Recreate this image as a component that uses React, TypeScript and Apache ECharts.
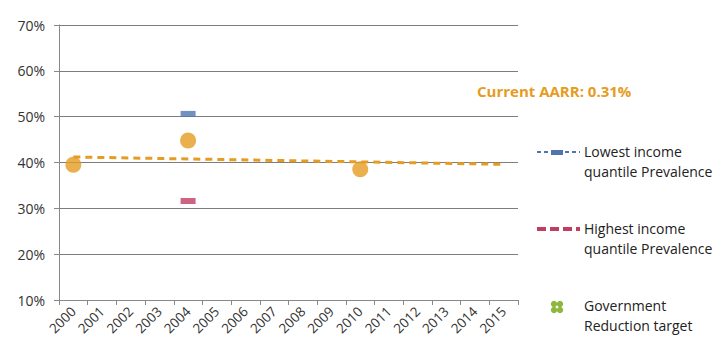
import React, { useEffect, useRef } from "react";
import * as echarts from "echarts";

const years = ["2000","2001","2002","2003","2004","2005","2006","2007","2008","2009","2010","2011","2012","2013","2014","2015"];
const yTicks = [10, 20, 30, 40, 50, 60, 70];
const nationalPoints: [string, number][] = [["2000", 39.5], ["2004", 44.8], ["2010", 38.5]];
const trendPoints: [string, number][] = [["2000", 41.2], ["2015", 39.6]];
const lowestIncome: [string, number][] = [["2004", 50.6]];
const highestIncome: [string, number][] = [["2004", 31.6]];
const aarrLabel = "Current AARR: 0.31%";

const ORANGE = "#E59C22";
const BLUE = "#4F74B0";
const RED = "#C23D62";
const GREEN = "#8DB83E";
const FONT = "Open Sans";

export default function App() {
  const ref = useRef<HTMLDivElement>(null);
  useEffect(() => {
    document.body.style.margin = "0";
    const chart = echarts.init(ref.current!, undefined, { renderer: "svg" });
    const cx = 557, cy = 307;
    chart.setOption({
      animation: false,
      grid: { left: 59, right: 198, top: 25, bottom: 47 },
      xAxis: {
        type: "category",
        data: years,
        boundaryGap: true,
        axisLine: { lineStyle: { color: "#888", width: 1 } },
        axisTick: { show: true, alignWithLabel: false, length: 5, lineStyle: { color: "#888" } },
        axisLabel: { rotate: 45, color: "#333", fontFamily: FONT, fontSize: 13.5, margin: 9 },
        splitLine: { show: false },
      },
      yAxis: {
        type: "value",
        min: yTicks[0],
        max: yTicks[yTicks.length - 1],
        interval: 10,
        axisLine: { show: true, lineStyle: { color: "#888" } },
        axisTick: { show: true, length: 5, lineStyle: { color: "#888" } },
        axisLabel: { formatter: "{value}%", color: "#333", fontFamily: FONT, fontSize: 14, margin: 14 },
        splitLine: { lineStyle: { color: "#7d7d7d", width: 1 } },
      },
      series: [
        {
          type: "line",
          data: trendPoints,
          symbol: "none",
          lineStyle: { color: ORANGE, width: 3, type: [7, 5] },
          z: 3,
        },
        {
          type: "scatter",
          data: nationalPoints,
          symbol: "circle",
          symbolSize: 16,
          itemStyle: { color: ORANGE },
          z: 4,
        },
        {
          type: "scatter",
          data: lowestIncome,
          symbol: "rect",
          symbolSize: [15, 6],
          itemStyle: { color: BLUE },
          z: 4,
        },
        {
          type: "scatter",
          data: highestIncome,
          symbol: "rect",
          symbolSize: [15, 6],
          itemStyle: { color: RED },
          z: 4,
        },
      ],
      graphic: [
        { type: "text", left: 477, top: 83, style: { text: aarrLabel, fill: ORANGE, font: `bold 15px ${FONT}` } },
        // legend: lowest
        { type: "line", shape: { x1: 537, y1: 152, x2: 580, y2: 152 }, style: { stroke: BLUE, lineWidth: 2, lineDash: [4, 3] } },
        { type: "rect", shape: { x: 551, y: 150, width: 12, height: 5 }, style: { fill: BLUE } },
        { type: "text", left: 584, top: 141, style: { text: "Lowest income\nquantile Prevalence", fill: "#222", font: `14px ${FONT}`, lineHeight: 20 } },
        // legend: highest
        { type: "line", shape: { x1: 537, y1: 229, x2: 580, y2: 229 }, style: { stroke: RED, lineWidth: 4, lineDash: [9, 4] } },
        { type: "text", left: 584, top: 218, style: { text: "Highest income\nquantile Prevalence", fill: "#222", font: `14px ${FONT}`, lineHeight: 20 } },
        // legend: government target (clover)
        { type: "circle", shape: { cx: cx - 3, cy: cy - 3, r: 3.2 }, style: { fill: GREEN } },
        { type: "circle", shape: { cx: cx + 3, cy: cy - 3, r: 3.2 }, style: { fill: GREEN } },
        { type: "circle", shape: { cx: cx - 3, cy: cy + 3, r: 3.2 }, style: { fill: GREEN } },
        { type: "circle", shape: { cx: cx + 3, cy: cy + 3, r: 3.2 }, style: { fill: GREEN } },
        { type: "text", left: 584, top: 295, style: { text: "Government\nReduction target", fill: "#222", font: `14px ${FONT}`, lineHeight: 20 } },
      ],
    });
    return () => chart.dispose();
  }, []);
  return <div ref={ref} style={{ width: 716, height: 347 }} />;
}
